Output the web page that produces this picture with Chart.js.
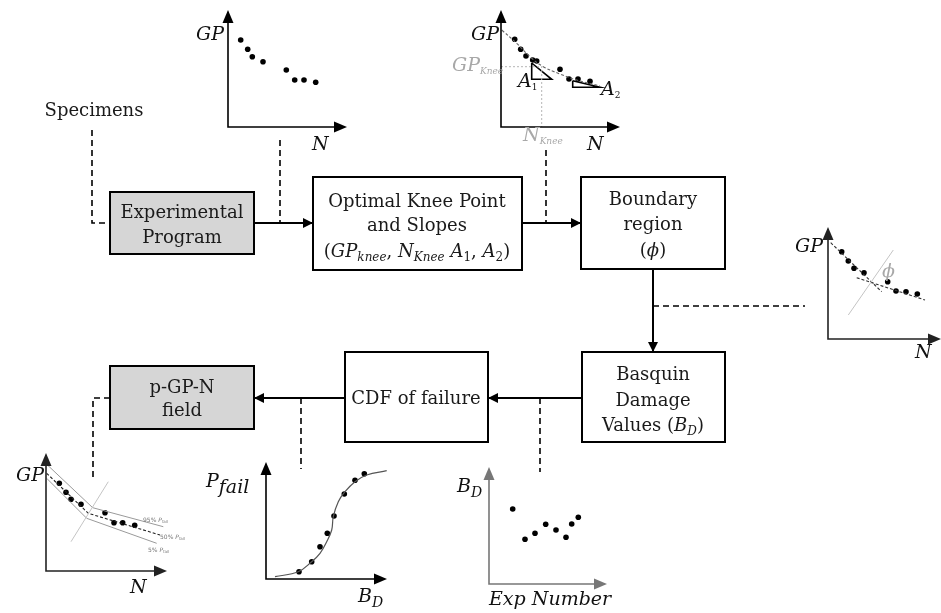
<!DOCTYPE html>
<html lang="en">
<head>
<meta charset="UTF-8">
<title>p-GP-N field workflow</title>
<script src="https://cdn.jsdelivr.net/npm/chart.js"></script>
<style>
  html, body { margin: 0; padding: 0; background: #fff; }
  #stage { position: relative; width: 941px; height: 613px; overflow: hidden; }
  #stage canvas { position: absolute; }
  #diagram { position: absolute; left: 0; top: 0; pointer-events: none; }
  .bx { font-family: "DejaVu Serif"; font-size: 18px; fill: #1a1a1a; text-anchor: middle; }
  .m { font-family: "DejaVu Serif"; font-style: italic; font-size: 19px; fill: #111; }
  .g { fill: #a8a8a8; }
  .tiny { font-family: "DejaVu Sans"; font-size: 6px; fill: #777; }
</style>
</head>
<body>
<div id="stage">
<svg id="diagram" width="941" height="613">
  <defs>
    <marker id="ah" viewBox="0 0 10 10" refX="10" refY="5" markerWidth="10" markerHeight="10" markerUnits="userSpaceOnUse" orient="auto">
      <path d="M0,0 L10,5 L0,10 z" fill="#000"/>
    </marker>
  </defs>

  <!-- boxes -->
  <rect x="110" y="192" width="144" height="62" fill="#d6d6d6" stroke="#000" stroke-width="2"/>
  <rect x="313" y="177" width="209" height="93" fill="#fff" stroke="#000" stroke-width="2"/>
  <rect x="581" y="177" width="144" height="92" fill="#fff" stroke="#000" stroke-width="2"/>
  <rect x="582" y="352" width="143" height="90" fill="#fff" stroke="#000" stroke-width="2"/>
  <rect x="345" y="352" width="143" height="90" fill="#fff" stroke="#000" stroke-width="2"/>
  <rect x="110" y="366" width="144" height="63" fill="#d6d6d6" stroke="#000" stroke-width="2"/>

  <!-- solid arrows -->
  <g stroke="#000" stroke-width="2" fill="none">
    <line x1="254" y1="223" x2="313" y2="223" marker-end="url(#ah)"/>
    <line x1="522" y1="223" x2="581" y2="223" marker-end="url(#ah)"/>
    <line x1="653" y1="269" x2="653" y2="352" marker-end="url(#ah)"/>
    <line x1="582" y1="398" x2="488" y2="398" marker-end="url(#ah)"/>
    <line x1="345" y1="398" x2="254" y2="398" marker-end="url(#ah)"/>
  </g>

  <!-- dashed links -->
  <g stroke="#000" stroke-width="1.6" fill="none" stroke-dasharray="6 4">
    <path d="M92,130 V223 H110"/>
    <path d="M280,140 V223"/>
    <path d="M546,150 V223"/>
    <path d="M653,306 H805"/>
    <path d="M540,398 V472"/>
    <path d="M301,398 V469"/>
    <path d="M110,398 H93 V477"/>
  </g>

  <!-- box text -->
  <text class="bx" x="94" y="116">Specimens</text>
  <text class="bx" x="182" y="218">Experimental</text>
  <text class="bx" x="182" y="243">Program</text>
  <text class="bx" x="417" y="207">Optimal Knee Point</text>
  <text class="bx" x="417" y="231">and Slopes</text>
  <text class="bx" x="417" y="257" font-size="17">(<tspan font-style="italic">GP</tspan><tspan font-style="italic" font-size="12" dy="4">knee</tspan><tspan dy="-4">, </tspan><tspan font-style="italic">N</tspan><tspan font-style="italic" font-size="12" dy="4">Knee</tspan><tspan dy="-4" font-style="italic"> A</tspan><tspan font-size="12" dy="4">1</tspan><tspan dy="-4">, </tspan><tspan font-style="italic">A</tspan><tspan font-size="12" dy="4">2</tspan><tspan dy="-4">)</tspan></text>
  <text class="bx" x="653" y="205">Boundary</text>
  <text class="bx" x="653" y="230">region</text>
  <text class="bx" x="653" y="256">(<tspan font-style="italic">ϕ</tspan>)</text>
  <text class="bx" x="653" y="380">Basquin</text>
  <text class="bx" x="653" y="406">Damage</text>
  <text class="bx" x="653" y="431">Values (<tspan font-style="italic">B</tspan><tspan font-style="italic" font-size="12" dy="4">D</tspan><tspan dy="-4">)</tspan></text>
  <text class="bx" x="416" y="404">CDF of failure</text>
  <text class="bx" x="182" y="393">p-GP-N</text>
  <text class="bx" x="182" y="416">field</text>

  <!-- panel labels -->
  <text class="m" x="224" y="40" text-anchor="end">GP</text>
  <text class="m" x="312" y="150">N</text>
  <text class="m" x="499" y="40" text-anchor="end">GP</text>
  <text class="m" x="587" y="150">N</text>
  <text class="m g" x="452" y="71" font-size="12">GP<tspan font-size="9" dy="3">Knee</tspan></text>
  <text class="m g" x="523" y="141" font-size="12">N<tspan font-size="9" dy="3">Knee</tspan></text>
  <text class="m" x="518" y="87" font-size="13">A<tspan font-size="9" font-style="normal" dy="3">1</tspan></text>
  <text class="m" x="601" y="95" font-size="13">A<tspan font-size="9" font-style="normal" dy="3">2</tspan></text>
  <text class="m" x="823" y="252" text-anchor="end">GP</text>
  <text class="m" x="915" y="358">N</text>
  <text class="m g" x="882" y="277" font-size="13">ϕ</text>
  <text class="m" x="44" y="481" text-anchor="end">GP</text>
  <text class="m" x="130" y="593">N</text>
  <text class="tiny" x="143" y="522">95% <tspan font-style="italic">P</tspan><tspan font-size="4" dy="1">fail</tspan></text>
  <text class="tiny" x="160" y="539">50% <tspan font-style="italic">P</tspan><tspan font-size="4" dy="1">fail</tspan></text>
  <text class="tiny" x="148" y="552">5% <tspan font-style="italic">P</tspan><tspan font-size="4" dy="1">fail</tspan></text>
  <text class="m" x="206" y="487">P<tspan dy="6">fail</tspan></text>
  <text class="m" x="358" y="602">B<tspan font-size="14" dy="5">D</tspan></text>
  <text class="m" x="457" y="492">B<tspan font-size="14" dy="5">D</tspan></text>
  <text class="m" x="489" y="605">Exp Number</text>
</svg>
</div>

<script>

  // raw test results (top-left panel)
  const rawN = [12.7, 19.7, 24.3, 35, 58.3, 66.7, 76, 87.7];
  const rawGP = [87, 77.7, 70.3, 65.3, 57, 47, 47, 44.7];

  // knee point and slopes (top-middle panel)
  const kneeN = [13.7, 19.7, 25, 31.7, 35.7, 59, 68, 77, 89];
  const kneeGP = [87.7, 77.7, 71, 67, 66, 57.7, 48, 48, 45.7];
  const fitN = [0.7, 15.7, 29, 42.3, 59, 75.7, 99];
  const fitGP = [97, 83.7, 70.3, 60.3, 53, 47, 41];
  const kneeGuideN = [0, 40.7, 40.7];
  const kneeGuideGP = [60.3, 60.3, 0];
  const slopeA1N = [30.7, 30.7, 50.7, 30.7];
  const slopeA1GP = [64, 47.7, 47.7, 64];
  const slopeA2N = [71.7, 71.7, 99, 71.7];
  const slopeA2GP = [46.3, 39.7, 39.7, 46.3];

  // boundary region (right panel)
  const bndN = [13.7, 20.3, 26, 36, 59.7, 68, 78, 89.3];
  const bndGP = [87.3, 78, 70.7, 66.3, 57.3, 48, 47.3, 45];
  const bndFit1N = [2.7, 53.7];
  const bndFit1GP = [96.3, 47.3];
  const bndFit2N = [28.7, 97];
  const bndFit2GP = [61.3, 39];
  const bndLineN = [20.3, 65.3];
  const bndLineGP = [24, 89];

  // p-GP-N field (bottom-left panel)
  const fieldN = [13.3, 20, 25, 35, 59, 68, 76.7, 88.7];
  const fieldGP = [87.7, 78.7, 71.7, 66.7, 58.3, 48.3, 48.3, 45.7];
  const band95N = [0.7, 46.7, 117.3];
  const band95GP = [106.7, 63.3, 44.3];
  const band50N = [0.7, 42.3, 114];
  const band50GP = [97.7, 57.7, 36];
  const band5N = [0.7, 40.7, 110.7];
  const band5GP = [92.7, 52.7, 27.7];
  const fieldLineN = [25, 62.3];
  const fieldLineGP = [29.3, 89.3];

  // CDF of failure (bottom-middle panel)
  const cdfBD = [33, 45.7, 54, 61.3, 68, 78.3, 89, 98.3];
  const cdfP = [7.3, 17.3, 32.3, 45.7, 63, 85, 98.7, 105.3];
  const cdfFitBD = [9, 32.3, 45.7, 54, 60.7, 65.7, 67.3, 72.3, 79, 89, 100.7, 120.7];
  const cdfFitP = [2.3, 7.3, 17.3, 25.7, 37.3, 49, 62.3, 77.3, 87.3, 97.3, 104, 108.3];

  // Basquin damage per experiment
  const expNo = [23.7, 36, 46, 56.7, 67, 77, 82.7, 89.3];
  const damage = [75, 44.7, 50.7, 59.7, 54, 46.7, 60, 66.7];

  const stage = document.getElementById('stage');

  // axes with arrow heads, drawn on the chart area edges
  const arrowAxes = {
    id: 'arrowAxes',
    afterDatasetsDraw(chart, args, opts) {
      const { ctx, chartArea: a } = chart;
      ctx.save();
      ctx.strokeStyle = opts.color;
      ctx.fillStyle = opts.color;
      ctx.lineWidth = 1.6;
      ctx.beginPath();
      ctx.moveTo(a.left, a.top + 10);
      ctx.lineTo(a.left, a.bottom);
      ctx.lineTo(a.right - 10, a.bottom);
      ctx.stroke();
      ctx.beginPath();
      ctx.moveTo(a.left, a.top);
      ctx.lineTo(a.left - 5.5, a.top + 13);
      ctx.lineTo(a.left + 5.5, a.top + 13);
      ctx.closePath();
      ctx.fill();
      ctx.beginPath();
      ctx.moveTo(a.right, a.bottom);
      ctx.lineTo(a.right - 13, a.bottom - 5.5);
      ctx.lineTo(a.right - 13, a.bottom + 5.5);
      ctx.closePath();
      ctx.fill();
      ctx.restore();
    }
  };

  function pts(xs, ys) {
    return xs.map((x, i) => ({ x: x, y: ys[i] }));
  }
  function dots(xs, ys) {
    return { data: pts(xs, ys), showLine: false, pointRadius: 2.8, backgroundColor: '#000', borderWidth: 0, clip: false };
  }
  function line(xs, ys, color, width, dash, tension) {
    return { data: pts(xs, ys), showLine: true, pointRadius: 0, borderColor: color, borderWidth: width,
             borderDash: dash || [], tension: tension || 0, fill: false, clip: false };
  }

  // one small scatter chart whose plot area starts at the axis origin (ox, oy)
  function panel(ox, oy, w, h, datasets, axisColor) {
    const pad = 8;
    const cv = document.createElement('canvas');
    cv.width = w + 2 * pad;
    cv.height = h + 2 * pad;
    cv.style.left = (ox - pad) + 'px';
    cv.style.top = (oy - h - pad) + 'px';
    stage.insertBefore(cv, document.getElementById('diagram'));
    new Chart(cv, {
      type: 'scatter',
      data: { datasets: datasets },
      options: {
        responsive: false,
        animation: false,
        devicePixelRatio: 1,
        events: [],
        layout: { padding: pad },
        plugins: { legend: { display: false }, tooltip: { enabled: false }, arrowAxes: { color: axisColor || '#000' } },
        scales: {
          x: { type: 'linear', display: false, min: 0, max: w },
          y: { type: 'linear', display: false, min: 0, max: h }
        }
      },
      plugins: [arrowAxes]
    });
  }

  panel(228, 127, 119, 117, [dots(rawN, rawGP)]);

  panel(501, 127, 119, 117, [
    line(kneeGuideN, kneeGuideGP, '#b5b5b5', 1, [2, 2]),
    line(fitN, fitGP, '#666', 1.1, [3, 2], 0.4),
    line(slopeA1N, slopeA1GP, '#000', 1.6),
    line(slopeA2N, slopeA2GP, '#000', 1.6),
    dots(kneeN, kneeGP)
  ]);

  panel(828, 339, 113, 112, [
    line(bndLineN, bndLineGP, '#c4c4c4', 1),
    line(bndFit1N, bndFit1GP, '#333', 1.1, [3, 2]),
    line(bndFit2N, bndFit2GP, '#333', 1.1, [3, 2]),
    dots(bndN, bndGP)
  ], '#222');

  panel(46, 571, 121, 118, [
    line(fieldLineN, fieldLineGP, '#c4c4c4', 1),
    line(band95N, band95GP, '#9a9a9a', 1),
    line(band5N, band5GP, '#9a9a9a', 1),
    line(band50N, band50GP, '#222', 1.1, [3, 2]),
    dots(fieldN, fieldGP)
  ], '#222');

  panel(266, 579, 121, 117, [
    line(cdfFitBD, cdfFitP, '#555', 1.2, [], 0.4),
    dots(cdfBD, cdfP)
  ]);

  panel(489, 584, 118, 117, [dots(expNo, damage)], '#777');
</script>
</body>
</html>
